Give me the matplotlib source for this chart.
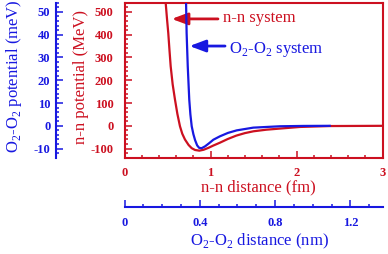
import matplotlib
matplotlib.use('Agg')
import matplotlib.pyplot as plt
from matplotlib.ticker import MultipleLocator

plt.rcParams['font.family'] = 'Liberation Serif'
plt.rcParams['mathtext.fontset'] = 'custom'
plt.rcParams['mathtext.rm'] = 'Liberation Serif'
plt.rcParams['axes.unicode_minus'] = False

RED = '#cc1020'
BLUE = '#1818e0'

# n-n potential: distance (fm), potential (MeV)
nn_r = [0.47, 0.479, 0.494, 0.509, 0.523, 0.537, 0.56, 0.587, 0.615, 0.645, 0.672, 0.703,
        0.745, 0.781, 0.82, 0.87, 0.92, 0.974, 1.03, 1.11, 1.20, 1.30, 1.40, 1.50,
        1.65, 1.81, 2.04, 2.39, 3.0]
nn_v = [600, 539, 470, 407, 332, 261, 182, 115, 52, -2, -35, -60,
        -84, -98, -106, -109, -105, -97, -87, -74, -58, -43, -32, -24,
        -17, -12, -5, -1, 0]

# O2-O2 potential: distance (nm), potential (meV)
oo_r = [0.325, 0.327, 0.330, 0.336, 0.344, 0.350, 0.357, 0.366, 0.375, 0.386, 0.397, 0.41,
        0.428, 0.45, 0.472, 0.507, 0.55, 0.596, 0.684, 0.826, 0.95, 1.09]
oo_v = [60, 54, 40.7, 26.1, 11.5, 5.0, -0.2, -3.7, -6.3, -8.6, -9.7, -9.8,
        -9.0, -7.6, -6.1, -4.6, -3.1, -2.0, -0.8, -0.2, -0.05, 0]

W, H = 388, 254
fig = plt.figure(figsize=(W / 100, H / 100), dpi=100)
pos = [124.5 / W, 1 - 157.5 / H, 258 / W, 155 / H]

# red axes: n-n system
ax = fig.add_axes(pos)
ax.plot(nn_r, nn_v, color=RED, lw=1.6)
ax.set_xlim(0, 3)
ax.set_ylim(-139, 541)
ax.set_xticks([0, 1, 2, 3])
ax.set_yticks([-100, 0, 100, 200, 300, 400, 500])
ax.xaxis.set_minor_locator(MultipleLocator(0.2))
ax.yaxis.set_minor_locator(MultipleLocator(20))
for s in ax.spines.values():
    s.set_color(RED)
    s.set_linewidth(1.5)
ax.tick_params(which='both', direction='in', colors=RED, top=False, right=False, width=1.1)
ax.tick_params(which='major', length=5, labelsize=9)
ax.tick_params(which='minor', length=2.5)
ax.tick_params(axis='y', pad=8)
ax.tick_params(axis='x', pad=7)
plt.setp(ax.get_xticklabels() + ax.get_yticklabels(), fontweight='bold')

# blue axes: O2-O2 system, spines pushed out to the left and down
ax2 = fig.add_axes(pos)
ax2.patch.set_visible(False)
ax2.plot(oo_r, oo_v, color=BLUE, lw=1.6)
ax2.set_xlim(0, 258 / 188.25)
ax2.set_ylim(-13.9, 54.1)
ax2.set_xticks([0, 0.4, 0.8, 1.2])
ax2.set_xticklabels(['0', '0.4', '0.8', '1.2'])
ax2.set_yticks([-10, 0, 10, 20, 30, 40, 50])
ax2.xaxis.set_minor_locator(MultipleLocator(0.1))
ax2.yaxis.set_minor_locator(MultipleLocator(2))
ax2.spines['top'].set_visible(False)
ax2.spines['right'].set_visible(False)
ax2.spines['left'].set_position(('outward', (124.5 - 56) * 0.72))
ax2.spines['bottom'].set_position(('outward', (207 - 157.5) * 0.72))
for s in ('left', 'bottom'):
    ax2.spines[s].set_color(BLUE)
    ax2.spines[s].set_linewidth(1.5)
ax2.tick_params(which='both', direction='in', colors=BLUE, width=1.1)
ax2.tick_params(which='major', length=5, labelsize=9)
ax2.tick_params(which='minor', length=2.5)
ax2.tick_params(axis='y', pad=4)
ax2.tick_params(axis='x', pad=7)
plt.setp(ax2.get_xticklabels() + ax2.get_yticklabels(), fontweight='bold')

# axis titles
fs = 12
fig.text(258 / W, 1 - 187 / H, 'n-n distance (fm)', color=RED, fontsize=fs,
         ha='center', va='center')
fig.text(259 / W, 1 - 241 / H, r'O$_\mathrm{2}$-O$_\mathrm{2}$ distance (nm)', color=BLUE,
         fontsize=fs, ha='center', va='center')
fig.text(81 / W, 1 - 77 / H, 'n-n potential (MeV)', color=RED, fontsize=fs,
         rotation=90, ha='center', va='center')
fig.text(14 / W, 1 - 76 / H, r'O$_\mathrm{2}$-O$_\mathrm{2}$ potential (meV)', color=BLUE,
         fontsize=fs, rotation=90, ha='center', va='center')

# arrows pointing at the curves
ax.annotate('', xy=(0.549, 469), xytext=(1.087, 469),
            arrowprops=dict(arrowstyle='-|>,head_length=0.8,head_width=0.3',
                            color=RED, lw=2, shrinkA=0, shrinkB=0, mutation_scale=12))
ax.text(1.145, 456, 'n-n system', color=RED, fontsize=fs, va='baseline')
ax.annotate('', xy=(0.756, 350), xytext=(1.169, 350),
            arrowprops=dict(arrowstyle='-|>,head_length=0.8,head_width=0.3',
                            color=BLUE, lw=2, shrinkA=0, shrinkB=0, mutation_scale=12))
ax.text(1.215, 320, r'O$_\mathrm{2}$-O$_\mathrm{2}$ system', color=BLUE, fontsize=fs,
        va='baseline')

fig.savefig('out.png', dpi=100)
